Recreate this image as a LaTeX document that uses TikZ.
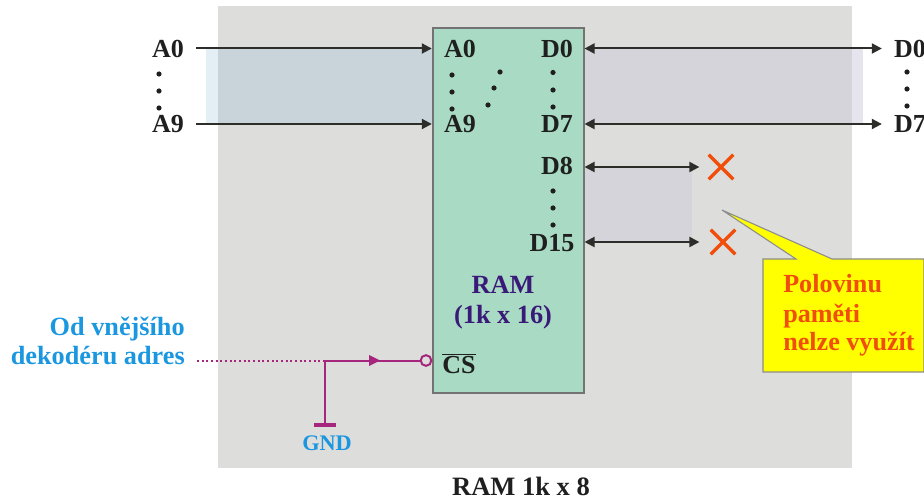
\documentclass[tikz,border=0pt]{standalone}
\usepackage{fontspec}
\setmainfont{Liberation Serif}
\usetikzlibrary{arrows.meta,shapes.misc}
\definecolor{panelgray}{RGB}{221,221,220}
\definecolor{ramgreen}{RGB}{169,219,196}
\definecolor{bandblue}{RGB}{136,183,213}
\definecolor{bandviolet}{RGB}{208,204,219}
\definecolor{wireblack}{RGB}{45,45,42}
\definecolor{wiremagenta}{RGB}{166,38,126}
\definecolor{textblue}{RGB}{27,151,224}
\definecolor{crossred}{RGB}{240,78,10}
\definecolor{ramindigo}{RGB}{58,26,120}
\definecolor{noteyellow}{RGB}{255,255,0}
\tikzset{
  pinlabel/.style={inner sep=0pt,text=black!88,font=\fontsize{19.5}{22}\selectfont\bfseries},
  bluelabel/.style={inner sep=0pt,text=textblue,font=\fontsize{19.7}{22}\selectfont\bfseries},
  ramlabel/.style={anchor=base,inner sep=0pt,text=ramindigo,font=\fontsize{19.7}{22}\selectfont\bfseries},
  noterow/.style={anchor=base west,inner sep=0pt,text=crossred,font=\fontsize{19.6}{22}\selectfont\bfseries},
  bus/.style={draw=wireblack,line width=1.5pt,-{Triangle[length=7.5pt,width=7.5pt]}},
  bibus/.style={draw=wireblack,line width=1.5pt,{Triangle[length=7.5pt,width=7.5pt]}-{Triangle[length=7.5pt,width=7.5pt]}},
  nc/.style={cross out,draw=crossred,line width=2.4pt,minimum size=16pt,inner sep=0pt},
  sigline/.style={draw=wiremagenta,line width=1.5pt}
}
\begin{document}
\begin{tikzpicture}[x=0.75pt,y=0.75pt,yscale=-1,xscale=1]
\useasboundingbox (0,0) rectangle (924,502);

%panel and bands
\fill [panelgray] (218,6) rectangle (852,468);
\fill [bandblue,opacity=0.235] (206,49) rectangle (433,124);
\fill [bandviolet,opacity=0.53] (584,49) rectangle (863,124);
\fill [bandviolet,opacity=0.53] (584,167) rectangle (692,242);
\node (ram) [draw=black!55,fill=ramgreen,line width=0.8pt,inner sep=0pt,minimum width=113.25pt,minimum height=273.75pt] at (508.5,210.5) {};

%left side
\node (a0out) [pinlabel] at (168,48.5) {A0};
\node (a9out) [pinlabel] at (168,124) {A9};
\node (a0in) [pinlabel] at (460,48.5) {A0};
\node (a9in) [pinlabel] at (460,124) {A9};

%right side
\node (d0in) [pinlabel] at (557,48.5) {D0};
\node (d7in) [pinlabel] at (557,124) {D7};
\node (d8in) [pinlabel] at (557,166) {D8};
\node (d15in) [pinlabel] at (552,243) {D15};
\node (d0out) [pinlabel] at (910,48.5) {D0};
\node (d7out) [pinlabel] at (910,124) {D7};
\node (ncA) [nc] at (721,167) {};
\node (ncB) [nc] at (723,242) {};

%dots
\foreach \x/\y in {159/74,159/91,159/108,452/75,452/92,452/109,500/72,494/88,488/105,553/72.5,553/90,553/107,907/72,907/89,907/106,553/191,553/208,553/225}
  \fill [black!88] (\x,\y) circle [radius=2.6];

%buses
\draw [bus] ([xshift=9pt]a0out.east) -- ([xshift=-0.5pt]ram.west |- a0in);
\draw [bus] ([xshift=9pt]a9out.east) -- ([xshift=-0.5pt]ram.west |- a9in);
\draw [bibus] (ram.east |- d0in) -- ([xshift=-9pt]d0out.west);
\draw [bibus] (ram.east |- d7in) -- ([xshift=-9pt]d7out.west);
\draw [bibus] (ram.east |- ncA) -- ([xshift=-7pt]ncA.west);
\draw [bibus] (ram.east |- ncB) -- ([xshift=-8.5pt]ncB.west);

%ram texts
\node (ramname) [ramlabel] at (503,293) {RAM};
\node (ramsize) [ramlabel] at (503,323) {(1k x 16)};
\node (cslabel) [pinlabel,anchor=base] at (459,373) {$\overline{\hbox{CS}}$};

%chip select
\node (decoder) [bluelabel,anchor=base east] at (185,335) {Od vnějšího};
\node (decoderb) [bluelabel,anchor=base east] at (185,364) {dekodéru adres};
\coordinate (wirestart) at (197,360.5);
\coordinate (junction) at (325,360.5);
\coordinate (tiebar) at (325,425);
\node (csbubble) [circle,draw=wiremagenta,line width=1.5pt,inner sep=0pt,minimum size=8pt] at (426,360.5) {};
\draw [sigline,dotted] (wirestart) -- (junction);
\draw [sigline] (junction) -- (csbubble.west);
\fill [wiremagenta] (369,355) -- (380,360.5) -- (369,366) -- cycle;
\draw [sigline] (junction) -- (tiebar);
\draw [wiremagenta,line width=2.8pt] (314,425) -- (336,425);
\node (gnd) [bluelabel,anchor=base,font=\fontsize{16.7}{18}\selectfont\bfseries] at (327,450) {GND};

%note
\draw [fill=noteyellow,draw=black!45,line width=0.8pt] (763,259) -- (796,259) -- (722,210) -- (832,259) -- (924,259) -- (924,372) -- (763,372) -- cycle;
\node (noteA) [noterow] at (783,292) {Polovinu};
\node (noteB) [noterow] at (783,322) {paměti};
\node (noteC) [noterow] at (783,350) {nelze využít};

\node (caption) [pinlabel,anchor=base,font=\fontsize{19.9}{22}\selectfont\bfseries] at (521,495) {RAM 1k x 8};
\end{tikzpicture}
\end{document}
